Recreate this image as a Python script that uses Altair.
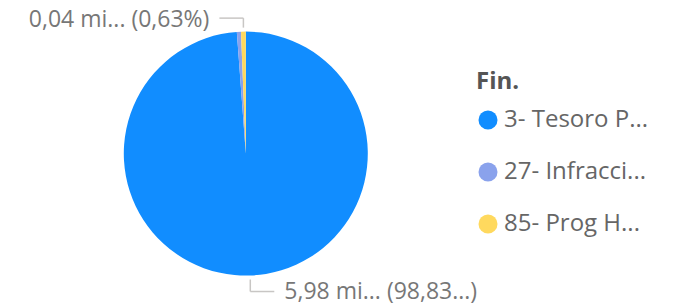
import altair as alt
import pandas as pd

categories = ["3- Tesoro P...", "27- Infracci...", "85- Prog H..."]
values = [5.98, 0.033, 0.038]
labels = ["5,98 mi... (98,83...)", "", "0,04 mi... (0,63%)"]
colors = ["#118DFF", "#8AA2EC", "#FFD95E"]

df = pd.DataFrame({
    "cat": categories,
    "value": values,
    "label": labels,
    "idx": list(range(len(categories))),
})

CX, CY, R = 237.8, 145.6, 122
GAP, VLEN_TOP, VLEN_BOT, HLEN, TGAP = 4, 9.5, 12, 24, 10
FONT = "Open Sans"

base = alt.Chart(df)

pie = base.mark_arc(outerRadius=R).encode(
    theta=alt.Theta("value:Q", stack=True),
    color=alt.Color(
        "cat:N",
        scale=alt.Scale(domain=categories, range=colors),
        legend=alt.Legend(
            title="Fin.",
            orient="none",
            legendX=468,
            legendY=62,
            symbolType="circle",
            symbolSize=361,
            symbolStrokeWidth=0,
            labelFontSize=24,
            labelFont=FONT,
            labelColor="#666666",
            titleFont=FONT,
            titleFontSize=24,
            titleFontWeight="bold",
            titleColor="#555555",
            titlePadding=14,
            rowPadding=28,
            labelOffset=4,
            labelLimit=300,
        ),
    ),
    order=alt.Order("idx:Q"),
    x=alt.value(CX),
    y=alt.value(CY),
)

geo = base.transform_joinaggregate(
    total="sum(value)"
).transform_window(
    cum="sum(value)", sort=[alt.SortField("idx")], frame=[None, 0]
).transform_calculate(
    mid="(datum.cum - datum.value/2) / datum.total * 2 * PI"
).transform_calculate(
    px=f"{CX} + {R} * sin(datum.mid)",
    py=f"{CY} - {R} * cos(datum.mid)",
    side="sin(datum.mid) >= 0 ? 1 : -1",
    vdir="cos(datum.mid) >= 0 ? -1 : 1",
).transform_calculate(
    y0=f"datum.py + datum.vdir * {GAP}",
    y1=f"datum.py + datum.vdir * ({GAP} + (datum.vdir < 0 ? {VLEN_TOP} : {VLEN_BOT}))",
    x2=f"datum.px + datum.side * {HLEN}",
    tx=f"datum.px + datum.side * ({HLEN} + {TGAP})",
).transform_filter("datum.label != ''")

line_color = "#C8C6C4"
vrule = geo.mark_rule(color=line_color, strokeWidth=1.5).encode(
    x=alt.X("px:Q", scale=None, axis=None),
    y=alt.Y("y0:Q", scale=None, axis=None),
    y2="y1:Q",
)
hrule = geo.mark_rule(color=line_color, strokeWidth=1.5).encode(
    x=alt.X("px:Q", scale=None, axis=None),
    x2="x2:Q",
    y=alt.Y("y1:Q", scale=None, axis=None),
)
text_left = geo.transform_filter("datum.side < 0").mark_text(
    align="right", baseline="middle", font=FONT, fontSize=23, color="#777777", dy=1.5
).encode(
    x=alt.X("tx:Q", scale=None, axis=None),
    y=alt.Y("y1:Q", scale=None, axis=None),
    text="label:N",
)
text_right = geo.transform_filter("datum.side > 0").mark_text(
    align="left", baseline="middle", font=FONT, fontSize=23, color="#777777"
).encode(
    x=alt.X("tx:Q", scale=None, axis=None),
    y=alt.Y("y1:Q", scale=None, axis=None),
    text="label:N",
)

chart = alt.layer(pie, vrule, hrule, text_left, text_right).properties(
    width=662,
    height=300,
    autosize=alt.AutoSizeParams(type="none"),
    padding=0,
).configure_view(stroke=None)

chart.save("out.html", embed_options={"renderer": "svg", "actions": False})
